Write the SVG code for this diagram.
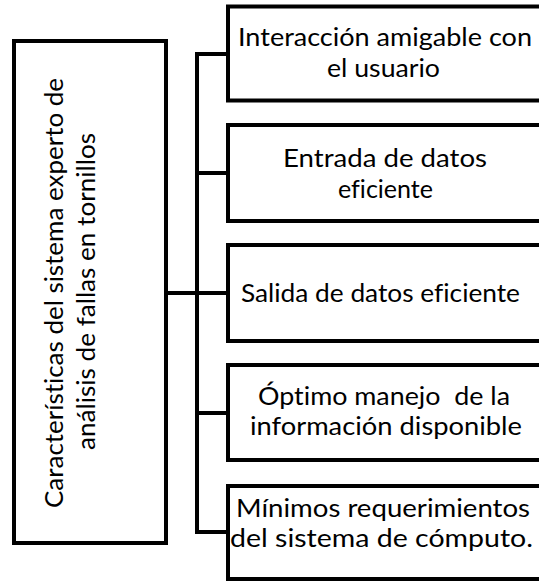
<svg xmlns="http://www.w3.org/2000/svg" width="539" height="581" viewBox="0 0 539 581">
<style>
.box{fill:#fff;stroke:#000;stroke-width:4}
.con{fill:none;stroke:#000;stroke-width:4}
text{font-family:Lato,"Liberation Sans",sans-serif;font-size:25px;fill:#000;font-variant-ligatures:none;font-feature-settings:"liga" 0,"clig" 0,"dlig" 0}
</style>
<rect width="539" height="581" fill="#fff"/>
<g id="connectors">
<path class="con" d="M166 293H197M228 54H197V532H228M197 173H228M197 293H228M197 413H228"/>
</g>
<g id="root">
<rect class="box" x="14" y="41" width="152" height="502"/>
<text transform="translate(63,508) rotate(-90)" textLength="430" lengthAdjust="spacingAndGlyphs">Características del sistema experto de</text>
<text transform="translate(95,450) rotate(-90)" textLength="317" lengthAdjust="spacingAndGlyphs">análisis de fallas en tornillos</text>
</g>
<g id="n1">
<rect class="box" x="228" y="6.5" width="314" height="94"/>
<text x="238" y="46" textLength="294" lengthAdjust="spacingAndGlyphs">Interacción amigable con</text>
<text x="327" y="77" textLength="113" lengthAdjust="spacingAndGlyphs">el usuario</text>
</g>
<g id="n2">
<rect class="box" x="228" y="125" width="314" height="96"/>
<text x="283" y="167" textLength="204" lengthAdjust="spacingAndGlyphs">Entrada de datos</text>
<text x="338" y="198" textLength="95" lengthAdjust="spacingAndGlyphs">eficiente</text>
</g>
<g id="n3">
<rect class="box" x="228" y="245" width="314" height="96"/>
<text x="241" y="302" textLength="279" lengthAdjust="spacingAndGlyphs">Salida de datos eficiente</text>
</g>
<g id="n4">
<rect class="box" x="228" y="365" width="314" height="95"/>
<text x="258" y="405" textLength="252" lengthAdjust="spacingAndGlyphs" xml:space="preserve">Óptimo manejo  de la</text>
<text x="250" y="435" textLength="272" lengthAdjust="spacingAndGlyphs">información disponible</text>
</g>
<g id="n5">
<rect class="box" x="228" y="486" width="314" height="93"/>
<text x="236" y="517" textLength="294" lengthAdjust="spacingAndGlyphs">Mínimos requerimientos</text>
<text x="230" y="547" textLength="303" lengthAdjust="spacingAndGlyphs">del sistema de cómputo.</text>
</g>
</svg>
